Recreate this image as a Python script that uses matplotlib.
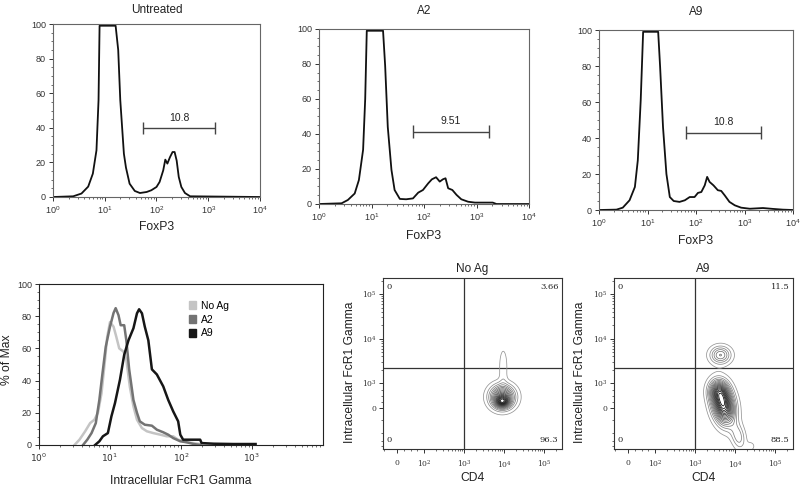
import numpy as np
import matplotlib
matplotlib.use('Agg')
import matplotlib.pyplot as plt
from matplotlib.ticker import FixedLocator, MultipleLocator, LogLocator, NullFormatter
from matplotlib.patches import Patch

plt.rcParams['font.family'] = ['Liberation Sans', 'DejaVu Sans']

# --- FoxP3 histograms (log10 intensity, % of max) ---
untreated_log = [0.0, 0.39, 0.55, 0.68, 0.77, 0.84, 0.88, 0.90, 1.21, 1.26, 1.30, 1.37, 1.41, 1.48, 1.58, 1.68,
                 1.81, 1.90, 2.00, 2.06, 2.13, 2.17, 2.21, 2.26, 2.31, 2.35, 2.39, 2.43, 2.48, 2.55, 2.65, 4.0]
untreated_pct = [0, 0.4, 2, 6, 13.5, 27, 56, 99, 99, 85, 56, 25, 17, 7.7, 3.5, 2.3,
                 2.9, 3.9, 5.8, 8.7, 15.4, 21.6, 19.3, 23, 26, 26, 21, 11.6, 5.8, 2.3, 0.4, 0]

a2_log = [0.0, 0.43, 0.55, 0.68, 0.76, 0.84, 0.88, 0.91, 1.22, 1.26, 1.31, 1.38, 1.44, 1.54, 1.66, 1.79,
          1.89, 1.98, 2.08, 2.15, 2.23, 2.30, 2.36, 2.41, 2.46, 2.54, 2.62, 2.71, 2.84, 2.97, 3.31, 3.38, 4.0]
a2_pct = [0, 0.4, 2.3, 6, 13.7, 31, 60, 99, 99, 79, 44, 19.5, 8, 2.9, 2.7, 3.2,
          6.5, 8, 11.8, 14.1, 15.3, 12.8, 14.1, 14.7, 9, 8, 5.2, 2.7, 1.3, 0.8, 0.8, 0, 0]

a9_log = [0.0, 0.36, 0.49, 0.63, 0.74, 0.80, 0.86, 0.91, 1.22, 1.26, 1.32, 1.39, 1.46, 1.54, 1.66, 1.77,
          1.87, 1.97, 2.04, 2.11, 2.18, 2.23, 2.28, 2.36, 2.45, 2.52, 2.59, 2.69, 2.80, 2.93, 3.11, 3.38,
          3.59, 3.79, 4.0]
a9_pct = [0, 0.2, 1.3, 5.4, 12.8, 27.6, 61, 99, 99, 79.6, 46, 20, 7.2, 5, 4.5, 5.4,
          7.2, 7.2, 9.5, 10, 13.7, 18.4, 15.6, 13.7, 11, 10.6, 8.2, 4.5, 2.6, 1.3, 0.7, 1.1,
          0.6, 0.2, 0]

hist_titles = ['Untreated', 'A2', 'A9']
gate_labels = ['10.8', '9.51', '10.8']
gate_from = [10 ** 1.74, 10 ** 1.79, 10 ** 1.80]
gate_to = [10 ** 3.13, 10 ** 3.23, 10 ** 3.35]
gate_level = [40, 41.4, 43]

# --- FcR1 gamma overlay (log10 intensity, % of max) ---
fcr_noag_log = [0.50, 0.57, 0.65, 0.72, 0.78, 0.83, 0.88, 0.93, 0.96, 1.0, 1.05, 1.09, 1.13, 1.19, 1.23,
                1.28, 1.33, 1.38, 1.45, 1.52, 1.61, 1.71, 1.80, 1.89, 1.96, 2.08, 2.27, 2.36, 3.05]
fcr_noag_pct = [0, 3.3, 8.5, 13.6, 15.7, 20, 32, 53, 67, 76.4, 73.5, 67, 60, 58, 53,
                36, 24, 15.7, 10.5, 8.5, 7.4, 6.4, 5.4, 5.4, 3.3, 1.7, 0.6, 0.5, 0.5]
fcr_a2_log = [0.62, 0.68, 0.74, 0.80, 0.85, 0.89, 0.94, 1.0, 1.05, 1.08, 1.12, 1.15, 1.20, 1.23,
              1.27, 1.33, 1.38, 1.42, 1.49, 1.59, 1.66, 1.75, 1.82, 1.89, 1.99, 2.08, 2.18, 2.27]
fcr_a2_pct = [0, 3.3, 7.4, 13.6, 28, 43, 61, 73.5, 82, 85, 80.6, 74.4, 74.4, 65,
              47, 28, 20, 14.7, 12.6, 12, 9.5, 7.9, 6.4, 4.3, 2.3, 1.7, 0.6, 0]
fcr_a9_log = [0.79, 0.85, 0.90, 0.97, 1.02, 1.07, 1.14, 1.20, 1.26, 1.33, 1.38, 1.41, 1.45, 1.49,
              1.54, 1.59, 1.66, 1.75, 1.82, 1.89, 1.96, 1.99, 2.03, 2.27, 2.29, 2.46, 2.74, 3.05]
fcr_a9_pct = [0, 2.3, 5.4, 7.4, 17.8, 26, 40.5, 56, 65, 72.5, 81.8, 84.3, 81.8, 73.5,
              65, 47, 43.8, 36.4, 28, 20.9, 14.7, 6.4, 3.3, 3.3, 1.2, 0.8, 0.6, 0.6]
overlay_names = ['No Ag', 'A2', 'A9']
overlay_colors = ['#c4c4c4', '#737373', '#161616']

# --- CD4 vs FcR1 gamma contour plots: populations (centre values, spread in decades, weight) ---
noag_cd4 = [9000, 9000, 9500]
noag_fcr = [450, 250, 2300]
noag_sd_cd4 = [0.2, 0.11, 0.07]
noag_sd_fcr = [0.17, 0.08, 0.28]
noag_rho = [0.0, 0.0, 0.0]
noag_weight = [1.0, 0.7, 0.14]
noag_quads = ['0', '3.66', '0', '96.3']

a9c_cd4 = [5000, 3800, 12000, 4300, 25000]
a9c_fcr = [150, 700, -1200, 4300, -2000]
a9c_sd_cd4 = [0.18, 0.15, 0.12, 0.17, 0.08]
a9c_sd_fcr = [0.28, 0.15, 0.2, 0.13, 0.08]
a9c_rho = [-0.25, 0.0, -0.3, 0.0, 0.0]
a9c_weight = [1.0, 0.4, 0.2, 0.35, 0.06]
a9c_quads = ['0', '11.5', '0', '88.5']

gate_cd4 = 1000
gate_fcr = 2200

W, H = 800, 491
fig = plt.figure(figsize=(W / 100, H / 100), dpi=100)


def px_axes(left, top, right, bottom):
    return fig.add_axes([left / W, 1 - bottom / H, (right - left) / W, (bottom - top) / H])


def hist_axes(ax):
    ax.set_xscale('log')
    ax.set_xlim(1, 1e4)
    ax.set_ylim(0, 100)
    ax.set_yticks([0, 20, 40, 60, 80, 100])
    ax.yaxis.set_minor_locator(MultipleLocator(5))
    ax.xaxis.set_major_locator(LogLocator(base=10, numticks=10))
    ax.xaxis.set_minor_locator(LogLocator(base=10, subs=np.arange(2, 10), numticks=10))
    ax.xaxis.set_minor_formatter(NullFormatter())
    ax.tick_params(which='both', direction='out', labelsize=6.5, colors='#333333', pad=2)
    ax.tick_params(which='major', length=3, width=0.7)
    ax.tick_params(which='minor', length=1.6, width=0.5)
    for sp in ax.spines.values():
        sp.set_color('#666666')
        sp.set_linewidth(0.8)


# top row
hist_boxes = [(53, 24, 260, 197), (319, 29, 529, 204), (599, 30, 793, 210)]
hist_logs = [untreated_log, a2_log, a9_log]
hist_pcts = [untreated_pct, a2_pct, a9_pct]
title_pads = [8, 11, 11]
label_y = [-0.139, -0.149, -0.139]
for i in range(3):
    ax = px_axes(*hist_boxes[i])
    hist_axes(ax)
    ax.plot(10 ** np.array(hist_logs[i]), hist_pcts[i], color='#111111', lw=1.3)
    ax.hlines(gate_level[i], gate_from[i], gate_to[i], color='#444444', lw=1.0)
    ax.vlines([gate_from[i], gate_to[i]], gate_level[i] - 3.5, gate_level[i] + 3.5, color='#444444', lw=1.0)
    ax.text(np.sqrt(gate_from[i] * gate_to[i]), gate_level[i] + 3, gate_labels[i],
            ha='center', va='bottom', fontsize=7.5, color='#222222')
    ax.set_title(hist_titles[i], fontsize=8.5, pad=title_pads[i], color='#222222')
    ax.set_xlabel('FoxP3', fontsize=8.7, color='#222222')
    ax.xaxis.set_label_coords(0.5, label_y[i])

# bottom-left overlay
ax4 = px_axes(39, 284, 323, 445)
hist_axes(ax4)
ax4.set_xticks([1, 10, 100, 1000])
ax4.set_xticklabels([r'$10^{0}$', r'$10^{1}$', r'$10^{2}$', r'$10^{3}$'])
for sp in ax4.spines.values():
    sp.set_color('#222222')
overlay_logs = [fcr_noag_log, fcr_a2_log, fcr_a9_log]
overlay_pcts = [fcr_noag_pct, fcr_a2_pct, fcr_a9_pct]
for lg, pc, col in zip(overlay_logs, overlay_pcts, overlay_colors):
    ax4.plot(10 ** np.array(lg), pc, color=col, lw=1.8)
ax4.set_ylabel('% of Max', fontsize=8.7, color='#222222')
ax4.yaxis.set_label_coords(-0.092, 0.53)
ax4.set_xlabel('Intracellular FcR1 Gamma', fontsize=8.7, color='#222222')
ax4.xaxis.set_label_coords(0.5, -0.186)
handles = [Patch(facecolor=c, edgecolor=c) for c in overlay_colors]
ax4.legend(handles, overlay_names, loc='upper left', bbox_to_anchor=(0.528, 0.895), frameon=False,
           borderpad=0, borderaxespad=0, handlelength=0.7, handleheight=0.8, handletextpad=0.5,
           labelspacing=0.35, fontsize=7.5)


def contour_axes(ax, title):
    ax.set_xscale('symlog', linthresh=100, linscale=0.61)
    ax.set_yscale('symlog', linthresh=1000, linscale=0.5)
    ax.set_xlim(-52, 2.8e5)
    ax.set_ylim(-2300, 2.3e5)
    serif = dict(family='DejaVu Serif', size=5.5)
    ax.set_xticks([0, 1e2, 1e3, 1e4, 1e5])
    ax.set_xticklabels(['0', r'$\mathregular{10^{2}}$', r'$\mathregular{10^{3}}$',
                        r'$\mathregular{10^{4}}$', r'$\mathregular{10^{5}}$'], fontdict=serif)
    ax.set_yticks([0, 1e3, 1e4, 1e5])
    ax.set_yticklabels(['0', r'$\mathregular{10^{3}}$', r'$\mathregular{10^{4}}$',
                        r'$\mathregular{10^{5}}$'], fontdict=serif)
    xminor = [-50, 25, 50, 75] + [m * 10 ** k for k in (2, 3, 4) for m in range(2, 10)] + [2e5]
    yminor = [-2000, -1500, -1000, -500, 250, 500, 750] + [m * 10 ** k for k in (3, 4) for m in range(2, 10)] + [2e5]
    ax.xaxis.set_minor_locator(FixedLocator(xminor))
    ax.yaxis.set_minor_locator(FixedLocator(yminor))
    ax.xaxis.set_minor_formatter(NullFormatter())
    ax.yaxis.set_minor_formatter(NullFormatter())
    ax.tick_params(which='both', direction='out', colors='#333333')
    ax.tick_params(axis='x', pad=4)
    ax.tick_params(axis='y', pad=1.5)
    ax.tick_params(which='major', length=3, width=0.7)
    ax.tick_params(which='minor', length=1.6, width=0.5)
    for sp in ax.spines.values():
        sp.set_color('#333333')
        sp.set_linewidth(0.8)
    ax.axvline(gate_cd4, color='#333333', lw=0.9)
    ax.axhline(gate_fcr, color='#333333', lw=0.9)
    ax.set_title(title, fontsize=8.5, pad=4, color='#222222')
    ax.set_xlabel('CD4', fontsize=8.7, color='#222222')
    ax.xaxis.set_label_coords(0.5, -0.135)
    ax.set_ylabel('Intracellular FcR1 Gamma', fontsize=8.7, color='#222222')


def draw_contours(ax, cd4, fcr, sd_cd4, sd_fcr, rho, weight, quads, ylab_x):
    tx = ax.xaxis.get_transform()
    ty = ax.yaxis.get_transform()
    xdec, ydec = 100.0, 1000.0  # scaled units per decade
    u = np.linspace(tx.transform(ax.get_xlim()[0]), tx.transform(ax.get_xlim()[1]), 400)
    v = np.linspace(ty.transform(ax.get_ylim()[0]), ty.transform(ax.get_ylim()[1]), 400)
    U, V = np.meshgrid(u, v)
    Z = np.zeros_like(U)
    for cx, cy, sx, sy, r, w in zip(cd4, fcr, sd_cd4, sd_fcr, rho, weight):
        du = (U - tx.transform(cx)) / (sx * xdec)
        dv = (V - ty.transform(cy)) / (sy * ydec)
        Z += w * np.exp(-(du ** 2 - 2 * r * du * dv + dv ** 2) / (2 * (1 - r ** 2)))
    X = tx.inverted().transform(U.ravel()).reshape(U.shape)
    Y = ty.inverted().transform(V.ravel()).reshape(V.shape)
    levels = np.linspace(0.04, 0.95, 17) * Z.max()
    cols = plt.cm.Greys(np.linspace(0.5, 1.0, len(levels)))
    ax.contour(X, Y, Z, levels=levels, colors=cols, linewidths=0.55)
    qs = dict(fontsize=6, family='DejaVu Serif', color='#222222')
    ax.text(0.02, 0.97, quads[0], transform=ax.transAxes, ha='left', va='top', **qs)
    ax.text(0.98, 0.97, quads[1], transform=ax.transAxes, ha='right', va='top', **qs)
    ax.text(0.02, 0.03, quads[2], transform=ax.transAxes, ha='left', va='bottom', **qs)
    ax.text(0.98, 0.03, quads[3], transform=ax.transAxes, ha='right', va='bottom', **qs)
    ax.yaxis.set_label_coords(ylab_x, 0.45)


ax5 = px_axes(383, 278, 562, 449)
contour_axes(ax5, 'No Ag')
draw_contours(ax5, noag_cd4, noag_fcr, noag_sd_cd4, noag_sd_fcr, noag_rho, noag_weight, noag_quads, -0.15)

ax6 = px_axes(614, 278, 793, 449)
contour_axes(ax6, 'A9')
draw_contours(ax6, a9c_cd4, a9c_fcr, a9c_sd_cd4, a9c_sd_fcr, a9c_rho, a9c_weight, a9c_quads, -0.155)

fig.savefig('out.png', dpi=100)
